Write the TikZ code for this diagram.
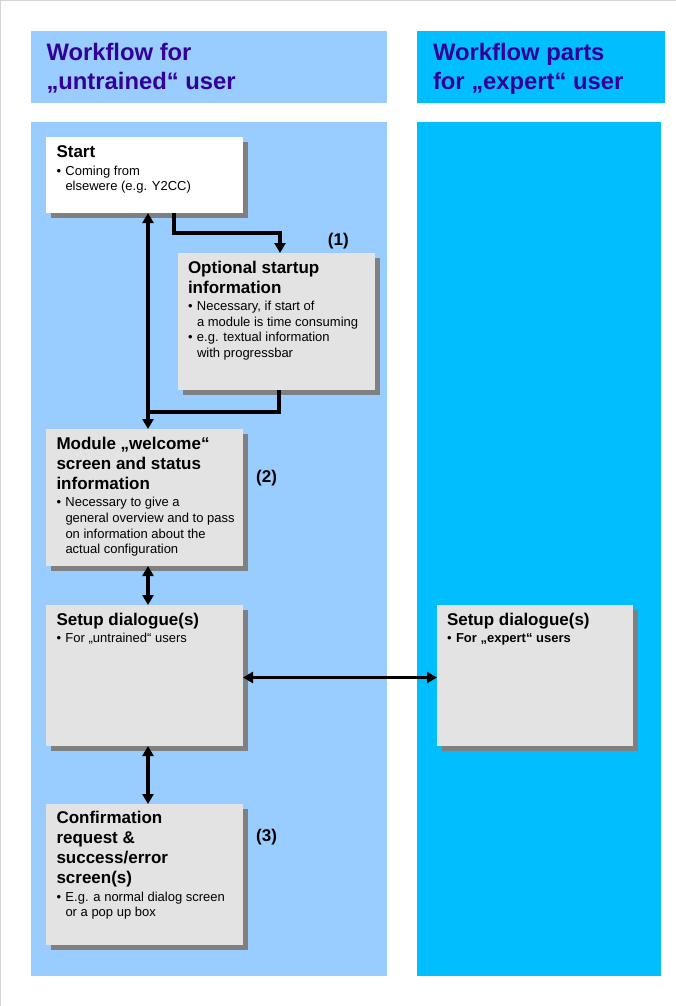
\documentclass[tikz,border=0pt]{standalone}
\usepackage{fontspec}
\setmainfont{Liberation Sans}
\usetikzlibrary{arrows.meta,shadows}
\definecolor{lblue}{RGB}{153,204,255}
\definecolor{cblue}{RGB}{0,190,255}
\definecolor{boxgray}{RGB}{227,227,227}
\definecolor{shgray}{RGB}{128,128,128}
\definecolor{hdrcol}{RGB}{51,0,153}
\definecolor{framegray}{RGB}{212,212,212}
\newcommand{\bxtitle}[1]{{\fontsize{17}{20}\selectfont\bfseries #1\par}\vspace{1.8pt}}
\newcommand{\bxitem}[1]{{\fontsize{13}{15.7}\selectfont\hangindent=9pt\hangafter=1\makebox[9pt][l]{•}#1\par}}
\newcommand{\bxtext}[1]{\begin{minipage}[t]{200pt}\parskip=0pt\parindent=0pt #1\end{minipage}}
\newcommand{\hdrtext}[1]{\begin{minipage}[t]{300pt}\parskip=0pt\parindent=0pt\fontsize{23.8}{29}\selectfont\bfseries #1\end{minipage}}
\begin{document}
\begin{tikzpicture}[x=1pt,y=-1pt,
  box/.style={anchor=north west, inner sep=0pt, outer sep=0pt, minimum width=197pt, fill=boxgray,
    drop shadow={shadow xshift=5pt, shadow yshift=-5pt, fill=shgray, opacity=1}},
  txt/.style={anchor=base west, inner sep=0pt, outer sep=0pt},
  hdr/.style={txt, text=hdrcol},
  lbl/.style={anchor=base west, inner sep=0pt, font=\fontsize{17}{20}\selectfont\bfseries},
  conn/.style={line width=3.2pt, draw=black},
  tip/.tip={Triangle[length=10pt,width=11pt]}
]
\useasboundingbox (0,0) rectangle (676,1006);
\fill[white] (0,0) rectangle (676,1006);
\draw[framegray, line width=1pt] (0,0.5) -- (676,0.5);
\draw[framegray, line width=1pt] (0.5,0) -- (0.5,1006);
% backgrounds
\fill[lblue] (31,31) rectangle (387,103);
\fill[cblue] (417,31) rectangle (665,103);
\fill[lblue] (31,122) rectangle (387,976);
\fill[cblue] (417,122) rectangle (661,976);
% headers
\node[hdr] (h1) at (46.5,61) {\hdrtext{Workflow for\\„untrained“ user}};
\node[hdr] (h2) at (433,61) {\hdrtext{Workflow parts\\for „expert“ user}};
% boxes
\node[box, fill=white, minimum height=76pt] (st) at (46,137) {};
\node[box, minimum height=137pt] (opt) at (178,253) {};
\node[box, minimum height=137pt] (mod) at (46,429) {};
\node[box, minimum height=141pt] (sl) at (46,605) {};
\node[box, minimum height=141pt] (cf) at (46,804) {};
\node[box, minimum width=196pt, minimum height=141pt] (sr) at (437,605) {};
% texts
\node[txt] (stt) at ([xshift=10.5pt,yshift=-20.7pt]st.north west) {\bxtext{\bxtitle{Start}\bxitem{Coming from\\elsewere (e.g. Y2CC)}}};
\node[txt] (optt) at ([xshift=10pt,yshift=-20pt]opt.north west) {\bxtext{\bxtitle{Optional startup\\information}\bxitem{Necessary, if start of\\a module is time consuming}\bxitem{e.g. textual information\\with progressbar}}};
\node[txt] (modt) at ([xshift=10.5pt,yshift=-20.3pt]mod.north west) {\bxtext{\bxtitle{Module „welcome“\\screen and status\\information}\bxitem{Necessary to give a\\general overview and to pass\\on information about the\\actual configuration}}};
\node[txt] (slt) at ([xshift=10.5pt,yshift=-20pt]sl.north west) {\bxtext{\bxtitle{Setup dialogue(s)}\bxitem{For „untrained“ users}}};
\node[txt] (cft) at ([xshift=10.5pt,yshift=-19.5pt]cf.north west) {\bxtext{\bxtitle{Confirmation\\request \&\\success/error\\screen(s)}\bxitem{E.g. a normal dialog screen\\or a pop up box}}};
\node[txt] (srt) at ([xshift=10pt,yshift=-20pt]sr.north west) {\bxtext{\bxtitle{Setup dialogue(s)}\bxitem{\bfseries For „expert“ users}}};
% step labels
\node[lbl] (l1) at (327.7,245) {(1)};
\node[lbl] (l2) at (256,482.7) {(2)};
\node[lbl] (l3) at (256,841.7) {(3)};
% connectors
\coordinate (stv) at ([xshift=102pt]st.south west);
\coordinate (modv) at ([xshift=102pt]mod.north west);
\draw[conn,{tip}-{tip}] (stv) -- (modv);
\draw[conn,-{tip}] ([xshift=128pt]st.south west) -- ++(0,20) -| ([xshift=102pt]opt.north west);
\draw[conn] ([xshift=101pt]opt.south west) -- ++(0,22) coordinate (bend) -- (bend -| stv);
\draw[conn,{tip}-{tip}] ([xshift=102pt]mod.south west) -- ([xshift=102pt]sl.north west);
\draw[conn,{tip}-{tip}] ([xshift=102pt]sl.south west) -- ([xshift=102pt]cf.north west);
\draw[conn,{tip}-{tip}] ([yshift=-2pt]sl.east) -- ([yshift=-2pt]sr.west);
\end{tikzpicture}
\end{document}
